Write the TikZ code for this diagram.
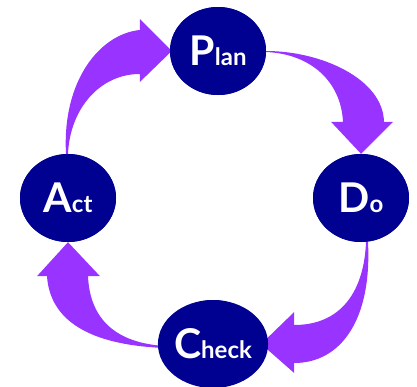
\documentclass[tikz,border=0pt]{standalone}
\usepackage{fontspec}
\setmainfont{Lato}
\usetikzlibrary{shapes.geometric,calc}
\definecolor{navy}{RGB}{0,0,145}
\definecolor{violet}{RGB}{153,51,255}
\tikzset{
  stage/.style={ellipse, fill=navy, text=white, minimum width=96pt, minimum height=88pt, inner sep=0pt, font=\bfseries},
  flow/.style={fill=violet, draw=none}
}
\newcommand{\pdcaLarge}{\fontsize{41}{41}\selectfont}
\newcommand{\pdcaSmall}{\fontsize{24}{24}\selectfont}
\begin{document}
\begin{tikzpicture}[x=1pt,y=-1pt]
\useasboundingbox (0,0) rectangle (417,386);
\clip (0,0) rectangle (417,386);
% nodes (drawn first to get anchors, redrawn on top later)
\path node[stage] (plan) at (218,51) {}
      node[stage] (do) at (361,198) {}
      node[stage] (act) at (68,198) {}
      node[stage] (check) at (213,344) {};
% Plan -> Do
\fill[flow] (plan.east) .. controls ($(plan.east)+(55,0)$) and ($(do.north)+(22,-75)$) .. ($(do.north)+(23,-32)$)
  -- ($(do.north)+(32,-32)$) -- (do.north) -- ($(do.north)+(-30,-32)$) -- ($(do.north)+(-18,-32)$)
  .. controls ($(do.north)+(-20,-72)$) and ($(plan.east)+(45,3)$) .. ($(plan.east)+(0,1)$) -- cycle;
% Do -> Check
\fill[flow] ($(do.south)+(7,0)$) .. controls ($(do.south)+(11,77)$) and ($(check.east)+(80,19)$) .. ($(check.east)+(33,19)$)
  -- ($(check.east)+(33,29)$) -- (check.east) -- ($(check.east)+(33,-32)$) -- ($(check.east)+(33,-19)$)
  .. controls ($(check.east)+(80,-19)$) and ($(do.south)+(3,49)$) .. ($(do.south)+(5,0)$) -- cycle;
% Check -> Act
\fill[flow] ($(check.west)+(0,4)$) .. controls ($(check.west)+(-76,1)$) and ($(act.south)+(-18,78)$) .. ($(act.south)+(-21,34)$)
  -- ($(act.south)+(-31,34)$) -- (act.south) -- ($(act.south)+(32,34)$) -- ($(act.south)+(20,34)$)
  .. controls ($(act.south)+(22,78)$) and ($(check.west)+(-48,-1)$) .. ($(check.west)+(0,2)$) -- cycle;
% Act -> Plan
\fill[flow] ($(act.north)+(-2,0)$) .. controls ($(act.north)+(-6,-73)$) and ($(plan.west)+(-70,-17)$) .. ($(plan.west)+(-30,-21)$)
  -- ($(plan.west)+(-30,-32)$) -- ($(plan.west)+(2,0)$) -- ($(plan.west)+(-30,31)$) -- ($(plan.west)+(-30,23)$)
  .. controls ($(plan.west)+(-70,23)$) and ($(act.north)+(2,-45)$) .. ($(act.north)+(0,0)$) -- cycle;
% nodes on top
\node[stage] at (plan) {\pdcaLarge P\pdcaSmall lan};
\node[stage] at (do) {\pdcaLarge D\pdcaSmall o};
\node[stage] at (act) {\pdcaLarge A\pdcaSmall ct};
\node[stage] at (check) {\pdcaLarge C\pdcaSmall heck};
\end{tikzpicture}
\end{document}
